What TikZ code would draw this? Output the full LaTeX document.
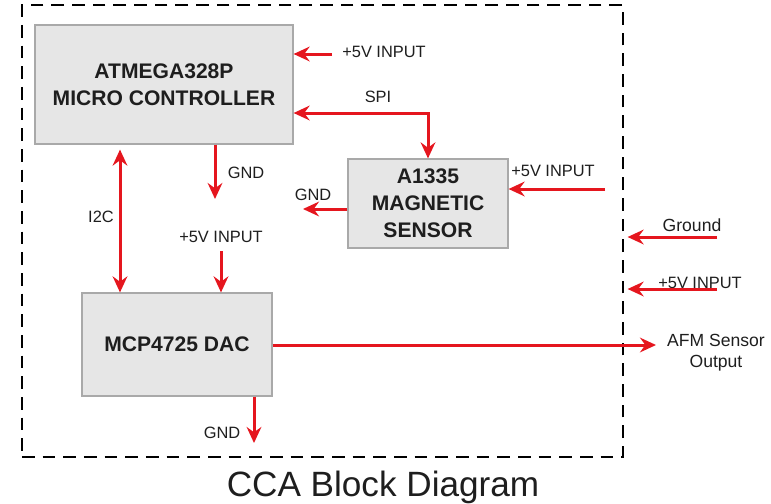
\documentclass[tikz,border=0pt]{standalone}
\usepackage{fontspec}
\setmainfont{Liberation Sans}
\usetikzlibrary{arrows.meta,calc}
\definecolor{sigred}{HTML}{E5161E}
\definecolor{boxfill}{HTML}{E6E6E6}
\definecolor{boxline}{HTML}{A9A9A9}
\definecolor{txt}{HTML}{1E1E1E}
\tikzset{
  sig/.style={-{Stealth[length=4.8mm,width=4.4mm,inset=1.6mm]},sigred,line width=0.9mm},
  sigb/.style={{Stealth[length=4.8mm,width=4.4mm,inset=1.6mm]}-{Stealth[length=4.8mm,width=4.4mm,inset=1.6mm]},sigred,line width=0.9mm},
  block/.style={draw=boxline,fill=boxfill,line width=0.35mm,align=center,text=txt,
    font=\fontsize{18}{23}\selectfont\bfseries,inner sep=0pt},
  lbl/.style={text=txt,font=\fontsize{14}{16}\selectfont,inner sep=1pt},
  lblb/.style={text=txt,font=\fontsize{15}{18}\selectfont,inner sep=1pt,align=center},
  frame/.style={draw=black,line width=0.75mm,dash pattern=on 3.8mm off 2.4mm,inner sep=0pt},
}
\begin{document}
\begin{tikzpicture}[x=0.3mm,y=-0.3mm]
  \useasboundingbox (0,0) rectangle (771,503);
  \node[frame,minimum width=180.3mm,minimum height=135.6mm] (cca) at (322.5,231) {};
  \node[block,minimum width=77.4mm,minimum height=35.7mm] (mcu) at (164,84.5) {ATMEGA328P\\MICRO CONTROLLER};
  \node[block,minimum width=48mm,minimum height=26.7mm] (sensor) at (428,203.5) {A1335\\MAGNETIC\\SENSOR};
  \node[block,minimum width=57mm,minimum height=30.9mm] (dac) at (177,344.5) {MCP4725 DAC};
  \node[lbl] (lvinmcu) at (384,52) {+5V INPUT};
  \node[lbl] (lspi) at (378,97) {SPI};
  \node[lbl] (lgndmcu) at (246,173) {GND};
  \node[lbl] (li2c) at (101,217) {I2C};
  \node[lbl] (lvindac) at (221,237) {+5V INPUT};
  \node[lbl] (lgndsen) at (313,195) {GND};
  \node[lbl] (lvinsen) at (553,171) {+5V INPUT};
  \node[lblb] (lground) at (692,225) {Ground};
  \node[lbl] (lvinext) at (700,283) {+5V INPUT};
  \node[lblb] (lafm) at (716,353) {AFM Sensor\\Output};
  \node[lbl] (lgnddac) at (222,433) {GND};
  \node[text=txt,font=\fontsize{30}{34}\selectfont] (title) at (383,487) {CCA Block Diagram};
  \coordinate (vinmcu) at (332,54);
  \coordinate (gndmcu) at (215,199);
  \coordinate (i2c) at (120,218);
  \coordinate (vindac) at (221,251);
  \coordinate (gndsen) at (303,209);
  \coordinate (vinsen) at (605,189);
  \coordinate (groundin) at (717,237);
  \coordinate (vinext) at (717,289);
  \coordinate (afmout) at (656,345);
  \coordinate (gnddac) at (254,443);
  \draw[sig] (vinmcu) -- (vinmcu -| mcu.east);
  \draw[sigb] ($(mcu.east)+(0,28.5)$) -| (sensor.north);
  \draw[sig] (mcu.south -| gndmcu) -- (gndmcu);
  \draw[sigb,shorten <=1.5mm] (i2c |- mcu.south) -- (i2c |- dac.north);
  \draw[sig] (vindac) -- (vindac |- dac.north);
  \draw[sig] (sensor.west |- gndsen) -- (gndsen);
  \draw[sig] (vinsen) -- (vinsen -| sensor.east);
  \draw[sig,shorten >=1mm] (groundin) -- (groundin -| cca.east);
  \draw[sig,shorten >=1mm] (vinext) -- (vinext -| cca.east);
  \draw[sig] (dac.east |- afmout) -- (afmout);
  \draw[sig] (dac.south -| gnddac) -- (gnddac);
\end{tikzpicture}
\end{document}
